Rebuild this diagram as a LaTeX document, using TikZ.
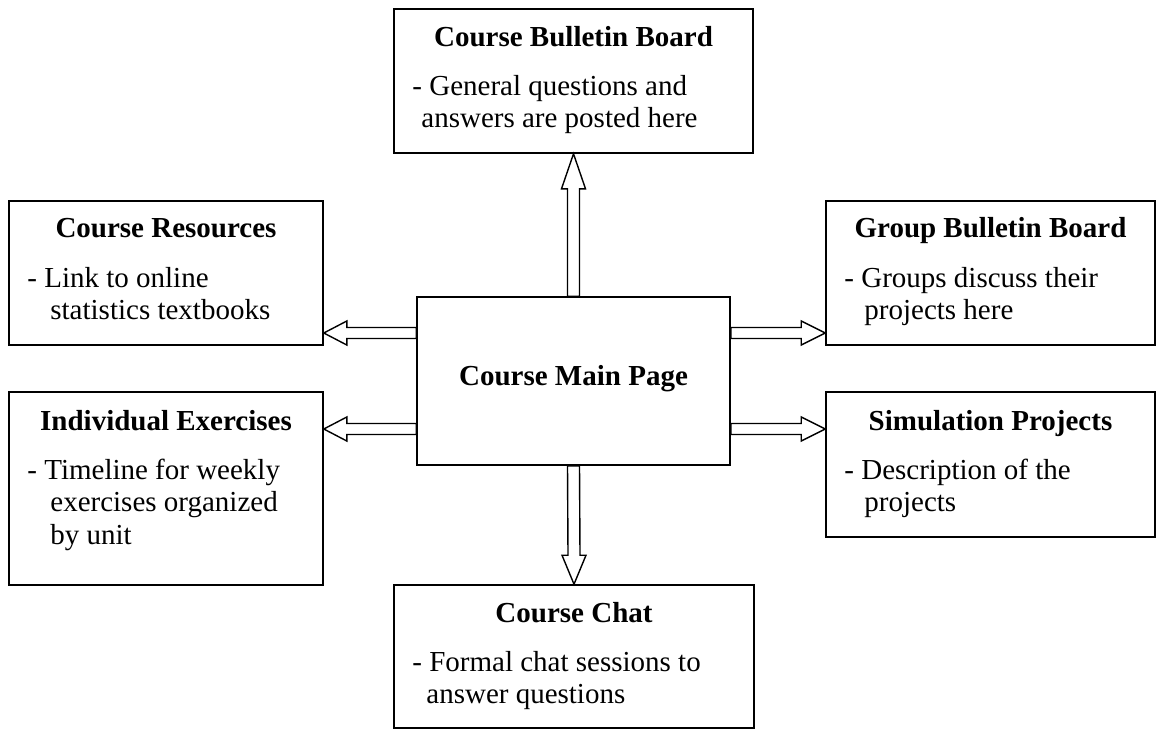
\documentclass[tikz,border=0pt]{standalone}
\usepackage{fontspec}
\setmainfont{Liberation Serif}
\usetikzlibrary{calc}
\newcommand\hsc[1]{#1}
\begin{document}
\begin{tikzpicture}[x=1pt,y=-1pt,
  box/.style={draw, line width=1.6pt, inner sep=0pt},
  ttl/.style={font=\fontsize{29}{32.5}\selectfont\bfseries, inner sep=0pt, anchor=base},
  bdy/.style={font=\fontsize{29}{32.5}\selectfont, inner sep=0pt, anchor=base west},
  blk/.style={draw, line width=1.4pt, fill=white, line join=miter}]
\useasboundingbox (0,0) rectangle (1156,732);

% boxes
\node[box, minimum width=313pt, minimum height=168pt] (main) at (573.5,381) {};
\node[box, minimum width=359pt, minimum height=144pt] (cbb) at (573.5,81) {};
\node[box, minimum width=314pt, minimum height=144pt] (cr) at (166,273) {};
\node[box, minimum width=314pt, minimum height=193pt] (ie) at (166,488.5) {};
\node[box, minimum width=329pt, minimum height=144pt] (gbb) at (990.5,273) {};
\node[box, minimum width=329pt, minimum height=145pt] (sp) at (990.5,464.5) {};
\node[box, minimum width=360pt, minimum height=143pt] (cc) at (574,656.5) {};

% texts
\node[ttl] (tmain) at ($(main.center)+(0,4)$) {\hsc{Course Main Page}};

\node[ttl] (tcbb) at ($(cbb.north)+(0,38)$) {\hsc{Course Bulletin Board}};
\node[bdy] (bcbb) at ($(cbb.north west)+(19,87)$) {\hsc{\begin{tabular}[t]{@{}l@{}}- General questions and\\\hspace*{9pt}answers are posted here\end{tabular}}};

\node[ttl] (tcr) at ($(cr.north)+(0,37)$) {\hsc{Course Resources}};
\node[bdy] (bcr) at ($(cr.north west)+(19,87)$) {\hsc{\begin{tabular}[t]{@{}l@{}}- Link to online\\\hspace*{23pt}statistics textbooks\end{tabular}}};

\node[ttl] (tie) at ($(ie.north)+(0,39)$) {\hsc{Individual Exercises}};
\node[bdy] (bie) at ($(ie.north west)+(19,88)$) {\hsc{\begin{tabular}[t]{@{}l@{}}- Timeline for weekly\\\hspace*{23pt}exercises organized\\\hspace*{23pt}by unit\end{tabular}}};

\node[ttl] (tgbb) at ($(gbb.north)+(0,37)$) {\hsc{Group Bulletin Board}};
\node[bdy] (bgbb) at ($(gbb.north west)+(19,87)$) {\hsc{\begin{tabular}[t]{@{}l@{}}- Groups discuss their\\\hspace*{20pt}projects here\end{tabular}}};

\node[ttl] (tsp) at ($(sp.north)+(0,39)$) {\hsc{Simulation Projects}};
\node[bdy] (bsp) at ($(sp.north west)+(19,88)$) {\hsc{\begin{tabular}[t]{@{}l@{}}- Description of the\\\hspace*{20pt}projects\end{tabular}}};

\node[ttl] (tcc) at ($(cc.north)+(0,38)$) {\hsc{Course Chat}};
\node[bdy] (bcc) at ($(cc.north west)+(19,87)$) {\hsc{\begin{tabular}[t]{@{}l@{}}- Formal chat sessions to\\\hspace*{14pt}answer questions\end{tabular}}};

% arrows up / down
\draw[blk] ($(main.north)+(-6,0)$) -- ($(cbb.south)+(-6,35)$) -- ($(cbb.south)+(-12,35)$) -- (cbb.south)
  -- ($(cbb.south)+(12,35)$) -- ($(cbb.south)+(6,35)$) -- ($(main.north)+(6,0)$) -- cycle;
\draw[blk] ($(main.south)+(-6,0)$) -- ($(cc.north)+(-6,-29)$) -- ($(cc.north)+(-12,-29)$) -- (cc.north)
  -- ($(cc.north)+(12,-29)$) -- ($(cc.north)+(6,-29)$) -- ($(main.south)+(6,0)$) -- cycle;

% arrows left
\coordinate (l1) at ($(main.west)+(0,-48)$);
\coordinate (l1t) at (cr.east |- l1);
\draw[blk] ($(l1)+(0,-5.5)$) -- ($(l1t)+(23,-5.5)$) -- ($(l1t)+(23,-12)$) -- (l1t)
  -- ($(l1t)+(23,12)$) -- ($(l1t)+(23,5.5)$) -- ($(l1)+(0,5.5)$) -- cycle;
\coordinate (l2) at ($(main.west)+(0,48)$);
\coordinate (l2t) at (ie.east |- l2);
\draw[blk] ($(l2)+(0,-5.5)$) -- ($(l2t)+(23,-5.5)$) -- ($(l2t)+(23,-12)$) -- (l2t)
  -- ($(l2t)+(23,12)$) -- ($(l2t)+(23,5.5)$) -- ($(l2)+(0,5.5)$) -- cycle;

% arrows right
\coordinate (r1) at ($(main.east)+(0,-48)$);
\coordinate (r1t) at (gbb.west |- r1);
\draw[blk] ($(r1)+(0,-5.5)$) -- ($(r1t)+(-24,-5.5)$) -- ($(r1t)+(-24,-12)$) -- (r1t)
  -- ($(r1t)+(-24,12)$) -- ($(r1t)+(-24,5.5)$) -- ($(r1)+(0,5.5)$) -- cycle;
\coordinate (r2) at ($(main.east)+(0,48)$);
\coordinate (r2t) at (sp.west |- r2);
\draw[blk] ($(r2)+(0,-5.5)$) -- ($(r2t)+(-24,-5.5)$) -- ($(r2t)+(-24,-12)$) -- (r2t)
  -- ($(r2t)+(-24,12)$) -- ($(r2t)+(-24,5.5)$) -- ($(r2)+(0,5.5)$) -- cycle;
\end{tikzpicture}
\end{document}
